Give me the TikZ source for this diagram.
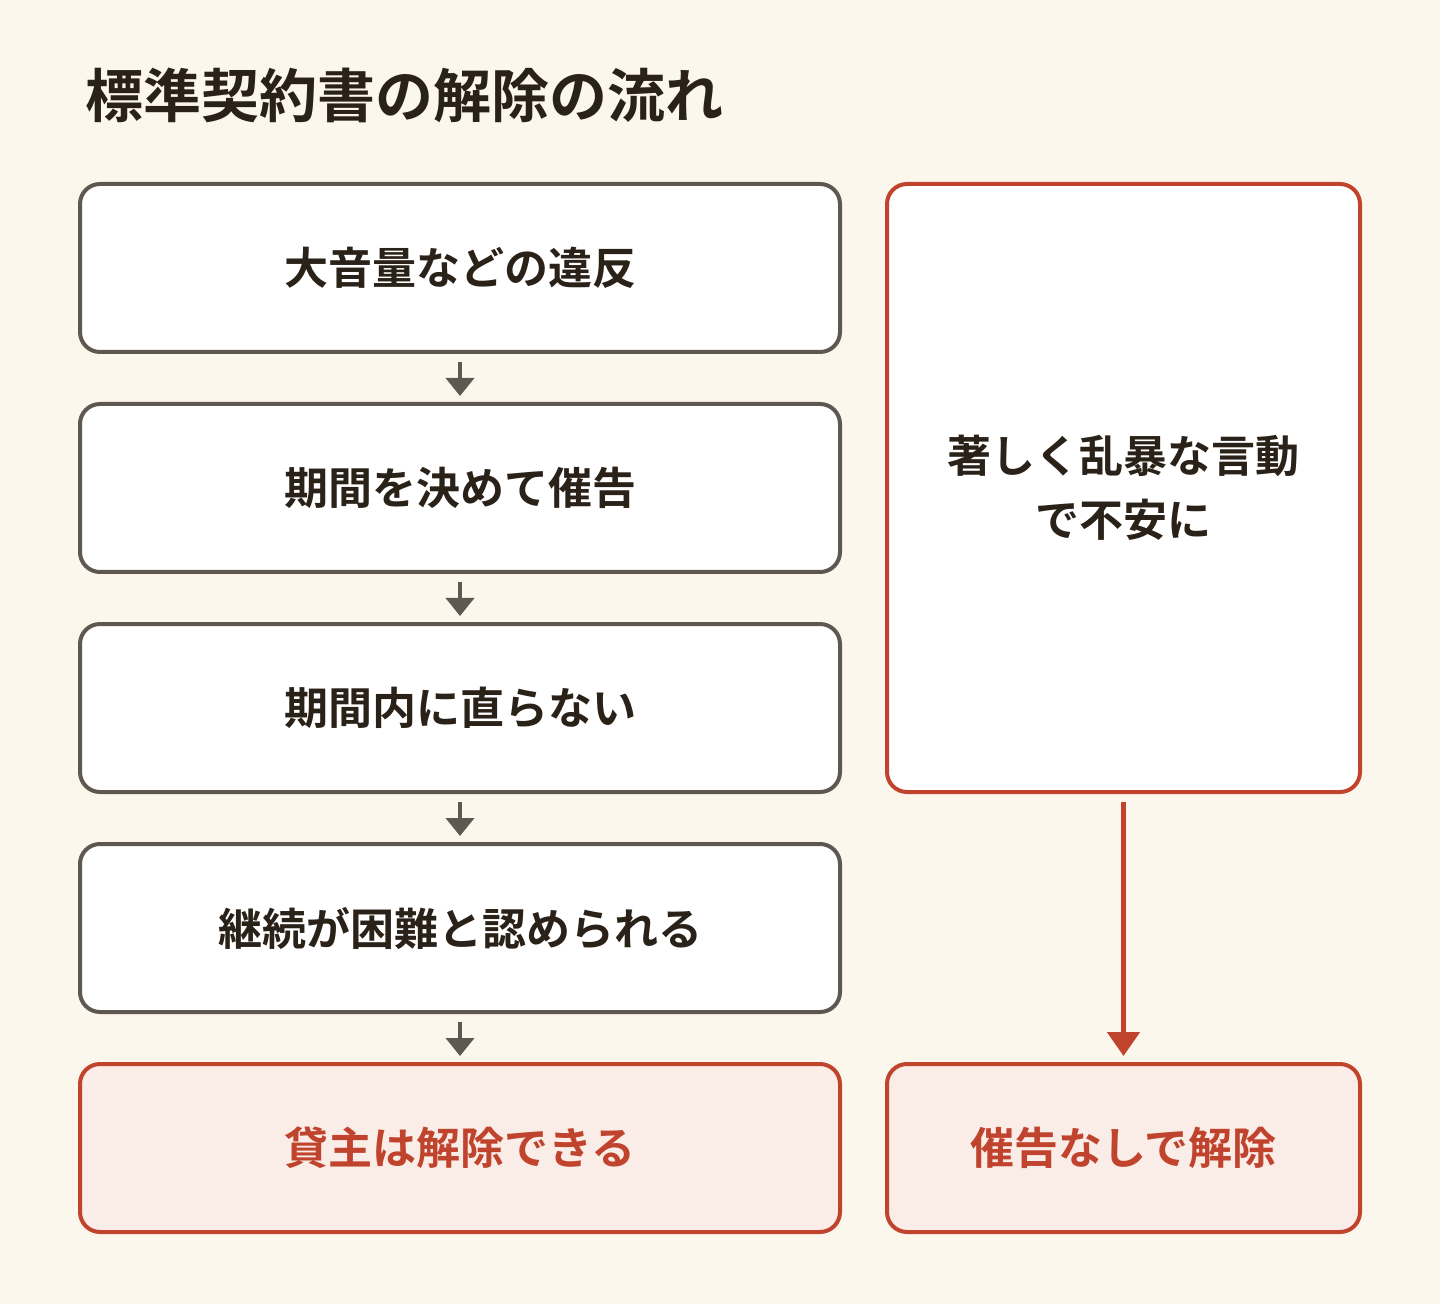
\documentclass[tikz,border=0pt]{standalone}
\usepackage{fontspec}
\newfontfamily\cjk[BoldFont={Noto Sans CJK JP Bold}]{Noto Sans CJK JP}
\usetikzlibrary{arrows.meta}
\definecolor{bg}{HTML}{FCF7EC}
\definecolor{gr}{HTML}{5F5850}
\definecolor{rd}{HTML}{C0432E}
\definecolor{lr}{HTML}{FAECE6}
\definecolor{tx}{HTML}{2A2118}
\begin{document}
\begin{tikzpicture}[x=0.5pt,y=-0.5pt,
 box/.style={draw=gr,line width=2pt,rounded corners=10pt,fill=white,minimum width=380pt,minimum height=84pt,font=\cjk\bfseries\fontsize{22}{28}\selectfont,text=tx,align=center,inner sep=0pt},
 rbox/.style={box,draw=rd},
 end/.style={box,draw=rd,fill=lr,text=rd},
 ga/.style={draw=gr,line width=2pt,-{Triangle[length=9pt,width=14pt]}},
 ra/.style={draw=rd,line width=2.5pt,-{Triangle[length=12pt,width=16pt]}}]
\fill[bg] (0,0) rectangle (1440,1304);
\node[font=\cjk\bfseries\fontsize{29}{34}\selectfont,text=tx,anchor=west] (t) at (78,95) {標準契約書の解除の流れ};
\node[box] (a) at (460,268) {大音量などの違反};
\node[box] (b) at (460,488) {期間を決めて催告};
\node[box] (c) at (460,708) {期間内に直らない};
\node[box] (d) at (460,928) {継続が困難と認められる};
\node[end] (e) at (460,1148) {貸主は解除できる};
\node[rbox,minimum width=236.5pt,minimum height=304pt,font=\cjk\bfseries\fontsize{22}{32}\selectfont] (r) at (1123.5,488) {著しく乱暴な言動\\で不安に};
\node[end,minimum width=236.5pt] (f) at (1123.5,1148) {催告なしで解除};
\draw[ga] ([yshift=-4pt]a.south) -- ([yshift=3pt]b.north);
\draw[ga] ([yshift=-4pt]b.south) -- ([yshift=3pt]c.north);
\draw[ga] ([yshift=-4pt]c.south) -- ([yshift=3pt]d.north);
\draw[ga] ([yshift=-4pt]d.south) -- ([yshift=3pt]e.north);
\draw[ra] ([yshift=-4pt]r.south) -- ([yshift=3pt]f.north);
\end{tikzpicture}
\end{document}
